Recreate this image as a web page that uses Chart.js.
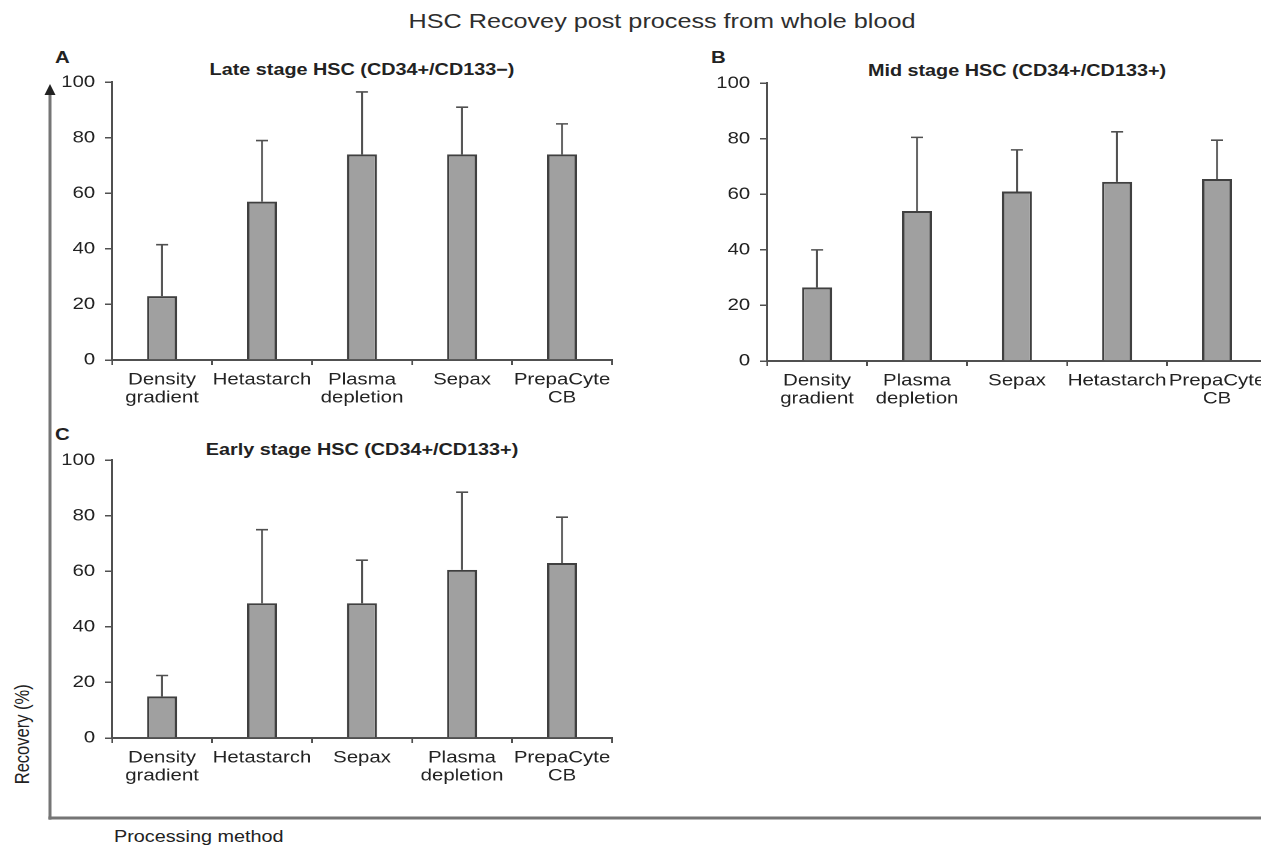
<!DOCTYPE html>
<html>
<head>
<meta charset="utf-8">
<script src="https://cdn.jsdelivr.net/npm/chart.js@4.4.1/dist/chart.umd.min.js"></script>
<style>
html, body { margin: 0; padding: 0; background: #fff; }
body { width: 1261px; height: 854px; overflow: hidden; position: relative;
       font-family: 'Liberation Sans', Arial, sans-serif; color: #222; }
.txt { position: absolute; white-space: nowrap; line-height: 1; }
.ctr { width: 800px; text-align: center; transform: scaleX(1.2); transform-origin: 50% 50%; }
.lft { transform: scaleX(1.2); transform-origin: 0 0; }
.panel { position: absolute; transform: scaleX(1.2); transform-origin: 0 0; }
</style>
</head>
<body>

<svg width="1261" height="854" style="position:absolute;left:0;top:0">
  <line x1="50" y1="90" x2="50" y2="819.5" stroke="#757575" stroke-width="3"/>
  <line x1="48.5" y1="818" x2="1261" y2="818" stroke="#757575" stroke-width="3"/>
  <polygon points="50,84 44.5,95 55.5,95" fill="#222"/>
</svg>

<div class="txt ctr" style="left:262px;top:10px;font-size:21px;color:#2e2e2e">HSC Recovey post process from whole blood</div>

<div class="txt lft" style="left:55px;top:49px;font-size:17px;font-weight:bold">A</div>
<div class="txt lft" style="left:711px;top:49px;font-size:17px;font-weight:bold">B</div>
<div class="txt lft" style="left:55px;top:426px;font-size:17px;font-weight:bold">C</div>

<div class="txt ctr" style="left:-38px;top:61px;font-size:16.5px;font-weight:bold">Late stage HSC (CD34+/CD133&minus;)</div>
<div class="txt ctr" style="left:617px;top:62px;font-size:16.5px;font-weight:bold">Mid stage HSC (CD34+/CD133+)</div>
<div class="txt ctr" style="left:-38px;top:441px;font-size:16.5px;font-weight:bold">Early stage HSC (CD34+/CD133+)</div>

<div class="txt" style="left:-78px;top:726px;width:200px;text-align:center;font-size:16.5px;transform:scaleX(1.2) rotate(-90deg);transform-origin:50% 50%">Recovery (%)</div>
<div class="txt lft" style="left:114px;top:828px;font-size:16.5px">Processing method</div>

<div class="panel" style="left:51.7px;top:64px"><canvas id="chartA" width="500" height="356"></canvas></div>
<div class="panel" style="left:707px;top:64.7px"><canvas id="chartB" width="500" height="356"></canvas></div>
<div class="panel" style="left:51.7px;top:442.3px"><canvas id="chartC" width="500" height="356"></canvas></div>

<script>
// panel A - late stage
const categoriesA = [['Density', 'gradient'], 'Hetastarch', ['Plasma', 'depletion'], 'Sepax', ['PrepaCyte', 'CB']];
const valuesA = [23, 57, 74, 74, 74];
const errTopA = [41.5, 79, 96.5, 91, 85];

// panel B - mid stage
const categoriesB = [['Density', 'gradient'], ['Plasma', 'depletion'], 'Sepax', 'Hetastarch', ['PrepaCyte', 'CB']];
const valuesB = [26.5, 54, 61, 64.5, 65.5];
const errTopB = [40, 80.5, 76, 82.5, 79.5];

// panel C - early stage
const categoriesC = [['Density', 'gradient'], 'Hetastarch', 'Sepax', ['Plasma', 'depletion'], ['PrepaCyte', 'CB']];
const valuesC = [15, 48.5, 48.5, 60.5, 63];
const errTopC = [22.5, 75, 64, 88.5, 79.5];

const yTicks = [0, 20, 40, 60, 80, 100];

Chart.defaults.font.family = "'Liberation Sans', Arial, sans-serif";
Chart.defaults.color = '#222';

// upper error bars, drawn with the y scale of each chart
const errorBars = {
    id: 'errorBars',
    afterDatasetsDraw(chart, args, opts) {
        const ctx = chart.ctx;
        const yScale = chart.scales.y;
        const meta = chart.getDatasetMeta(0);
        const vals = chart.data.datasets[0].data;
        ctx.save();
        ctx.strokeStyle = '#505050';
        ctx.lineWidth = 1.6;
        meta.data.forEach((bar, i) => {
            const yTop = yScale.getPixelForValue(opts.tops[i]);
            const yBar = yScale.getPixelForValue(vals[i]);
            ctx.beginPath();
            ctx.moveTo(bar.x, yBar);
            ctx.lineTo(bar.x, yTop);
            ctx.moveTo(bar.x - 5, yTop);
            ctx.lineTo(bar.x + 5, yTop);
            ctx.stroke();
        });
        ctx.restore();
    }
};

function makePanel(id, labels, values, tops) {
    const ctx = document.getElementById(id).getContext('2d');
    return new Chart(ctx, {
        type: 'bar',
        data: {
            labels: labels,
            datasets: [{
                data: values,
                backgroundColor: '#a0a0a0',
                borderColor: '#404040',
                borderWidth: 2,
                barPercentage: 0.3,
                categoryPercentage: 1
            }]
        },
        options: {
            responsive: false,
            animation: false,
            devicePixelRatio: 2,
            layout: { padding: { top: 16, right: 33.33, left: 0, bottom: 0 } },
            plugins: {
                legend: { display: false },
                tooltip: { enabled: false },
                errorBars: { tops: tops }
            },
            scales: {
                x: {
                    afterFit: s => { s.height = 60; },
                    grid: { offset: true, drawOnChartArea: false, drawTicks: true, tickLength: 5, color: '#505050', lineWidth: 1.5 },
                    border: { color: '#505050', width: 2 },
                    ticks: { font: { size: 17, lineHeight: 1.05 }, padding: 6, maxRotation: 0, autoSkip: false, color: '#222' }
                },
                y: {
                    min: 0,
                    max: 100,
                    afterFit: s => { s.width = 50; },
                    afterBuildTicks: s => { s.ticks = yTicks.map(v => ({ value: v })); },
                    grid: { drawOnChartArea: false, drawTicks: true, tickLength: 6, color: '#505050', lineWidth: 1.5 },
                    border: { color: '#505050', width: 2 },
                    ticks: { font: { size: 17 }, padding: 8, color: '#222' }
                }
            }
        },
        plugins: [errorBars]
    });
}

makePanel('chartA', categoriesA, valuesA, errTopA);
makePanel('chartB', categoriesB, valuesB, errTopB);
makePanel('chartC', categoriesC, valuesC, errTopC);
</script>
</body>
</html>
